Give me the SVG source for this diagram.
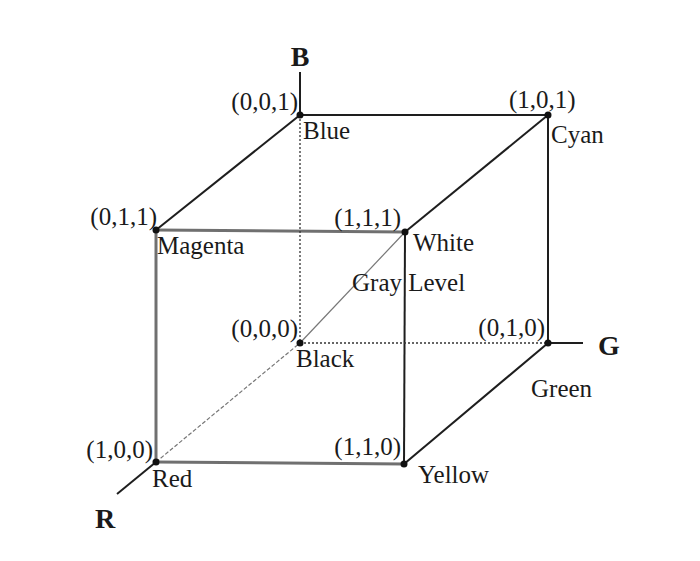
<svg xmlns="http://www.w3.org/2000/svg" width="700" height="561" viewBox="0 0 700 561">
<style>
.lbl{font-family:"Liberation Serif","Times New Roman",serif;font-size:25px;fill:#1a1a1a}
.ax{font-family:"Liberation Serif","Times New Roman",serif;font-size:28px;font-weight:bold;fill:#1a1a1a}
.e{stroke:#1e1e1e;stroke-width:2;fill:none}
.g{stroke:#707070;stroke-width:3;fill:none}
.d{stroke:#333;stroke-width:1.3;stroke-dasharray:2 2;fill:none}
.t{stroke:#777;stroke-width:1.2;fill:none}
.dot{fill:#111}
</style>
<rect width="700" height="561" fill="#ffffff"/>
<g id="connectors">
  <line class="e" x1="300" y1="115" x2="300" y2="72"/>
  <line class="e" x1="548" y1="343" x2="583" y2="343"/>
  <line class="e" x1="156" y1="462" x2="117" y2="494"/>
  <line class="e" x1="300" y1="115" x2="548" y2="115"/>
  <line class="e" x1="300" y1="115" x2="156" y2="230"/>
  <line class="g" x1="156" y1="230" x2="405" y2="232"/>
  <line class="e" x1="548" y1="115" x2="405" y2="232"/>
  <line class="e" x1="548" y1="115" x2="548" y2="343"/>
  <line class="g" x1="156" y1="230" x2="156" y2="462"/>
  <line class="g" x1="156" y1="462" x2="404" y2="464"/>
  <line class="e" x1="405" y1="232" x2="404" y2="464"/>
  <line class="e" x1="548" y1="343" x2="404" y2="464"/>
  <line class="d" x1="300" y1="115" x2="300" y2="343"/>
  <line class="d" x1="300" y1="343" x2="548" y2="343"/>
  <line class="t" x1="156" y1="462" x2="300" y2="343" stroke-dasharray="4 2"/>
  <line class="t" x1="300" y1="343" x2="405" y2="232"/>
</g>
<g id="axis-B"><text class="ax" x="300" y="66" text-anchor="middle">B</text></g>
<g id="axis-G"><text class="ax" x="598" y="355">G</text></g>
<g id="axis-R"><text class="ax" x="95" y="528">R</text></g>
<g id="blue"><circle class="dot" cx="300" cy="115" r="3.5"/><text class="lbl" x="298" y="110" text-anchor="end">(0,0,1)</text><text class="lbl" x="303" y="139">Blue</text></g>
<g id="cyan"><circle class="dot" cx="548" cy="115" r="3.5"/><text class="lbl" x="509" y="108">(1,0,1)</text><text class="lbl" x="551" y="143">Cyan</text></g>
<g id="magenta"><circle class="dot" cx="156" cy="230" r="3.5"/><text class="lbl" x="157" y="225" text-anchor="end">(0,1,1)</text><text class="lbl" x="157" y="254">Magenta</text></g>
<g id="white"><circle class="dot" cx="405" cy="232" r="3.5"/><text class="lbl" x="401" y="226" text-anchor="end">(1,1,1)</text><text class="lbl" x="413" y="251">White</text></g>
<g id="gray-level"><text class="lbl" x="352" y="291">Gray Level</text></g>
<g id="black"><circle class="dot" cx="300" cy="343" r="3.5"/><text class="lbl" x="298" y="337" text-anchor="end">(0,0,0)</text><text class="lbl" x="296" y="367">Black</text></g>
<g id="green"><circle class="dot" cx="548" cy="343" r="3.5"/><text class="lbl" x="545" y="336" text-anchor="end">(0,1,0)</text><text class="lbl" x="531" y="397">Green</text></g>
<g id="red"><circle class="dot" cx="156" cy="462" r="3.5"/><text class="lbl" x="153" y="458" text-anchor="end">(1,0,0)</text><text class="lbl" x="152" y="487">Red</text></g>
<g id="yellow"><circle class="dot" cx="404" cy="464" r="3.5"/><text class="lbl" x="401" y="455" text-anchor="end">(1,1,0)</text><text class="lbl" x="418" y="483">Yellow</text></g>
</svg>
